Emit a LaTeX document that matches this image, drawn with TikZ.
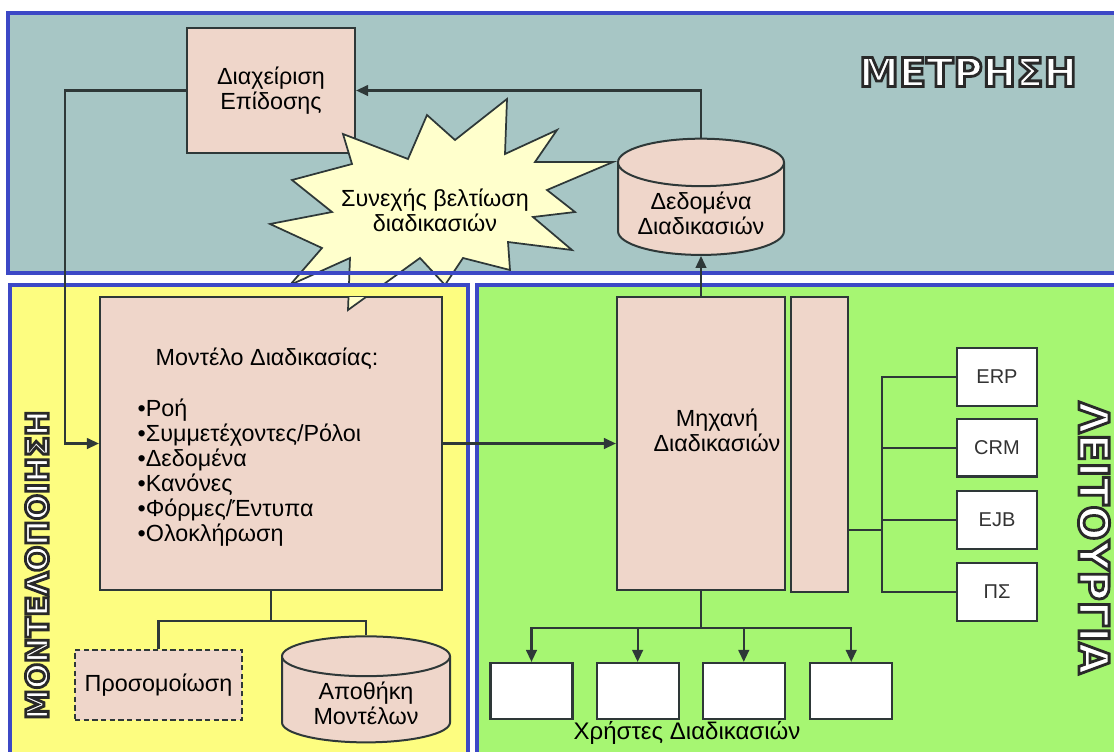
\documentclass[tikz,border=0pt]{standalone}
\usepackage{fontspec}
\setmainfont{Liberation Sans}
\newfontfamily\bannerfont{DejaVu Sans}
\usepackage{xcolor}
\usetikzlibrary{arrows.meta,positioning,shapes.geometric}
\definecolor{measureTeal}{HTML}{A7C6C5}
\definecolor{modelYellow}{HTML}{FDFD80}
\definecolor{runGreen}{HTML}{A6F672}
\definecolor{panelBlue}{HTML}{3C48C6}
\definecolor{boxPeach}{HTML}{EFD6CA}
\definecolor{burstCream}{HTML}{FFFFCC}
\definecolor{lineGrey}{HTML}{2E3838}
\newcommand{\diagsize}{\fontsize{17.5}{18.75}\selectfont}
% white letters with a dark rim (fill+stroke text mode)
\newcommand{\hollowtext}[1]{\special{pdf:literal direct 2 Tr 2.1 w 0.16 0.16 0.16 RG 1 1 1 rg}#1\special{pdf:literal direct 0 Tr 0.4 w 0 0 0 RG 0 0 0 rg}}

\begin{document}
\begin{tikzpicture}[x=0.75pt, y=-0.75pt,
    panel/.style={draw=panelBlue, line width=2.8pt},
    box/.style={draw=lineGrey, fill=boxPeach, line width=1.6pt, align=center, font=\diagsize},
    sysbox/.style={draw=lineGrey, fill=white, line width=1.6pt, minimum width=60pt, minimum height=43pt, font=\fontsize{15}{17}\selectfont, text=black!80},
    userbox/.style={draw=lineGrey, fill=white, line width=1.6pt, minimum width=61.5pt, minimum height=42pt},
    store/.style={cylinder, shape border rotate=90, aspect=0.35, draw=lineGrey, fill=boxPeach, line width=1.5pt, align=center, font=\diagsize},
    line/.style={draw=lineGrey, line width=1.6pt},
    arrow/.style={line, -{Triangle[length=9pt,width=8pt]}},
    banner/.style={font=\bannerfont\bfseries\fontsize{30}{30}\selectfont},
    burst/.style={draw=lineGrey, fill=burstCream, line width=1.3pt},
    burst path/.style={insert path={(343,134) -- (408,159) -- (427,115) -- (455,140) -- (507,99) -- (505,154) -- (557,130) -- (535,162) -- (613,162) -- (547,190) -- (575,212) -- (533,217) -- (572,250) -- (508,242) -- (510,270) -- (463,258) -- (445,285) -- (420,258) -- (348,310) -- (350,258) -- (290,285) -- (322,248) -- (270,224) -- (332,212) -- (292,180) -- (352,164) -- cycle}}
  ]
  \useasboundingbox (0,0) rectangle (1114,751);
  \clip (0,0) rectangle (1114,751);
  \fill[white] (0,0) rectangle (1114,751);

  % measurement
  \fill[measureTeal] (8,13) rectangle (1120,273);
  \node[box, minimum width=126pt, minimum height=93.75pt] (perf) at (271,90.5) {Διαχείριση\\Επίδοσης};
  \draw[burst, burst path];
  \node[font=\diagsize, align=center] (burstlabel) at (435,210) {Συνεχής βελτίωση\\διαδικασιών};
  \draw[panel] (8,13) rectangle (1120,273);
  \node[store, minimum width=124.5pt, minimum height=72.3pt] (data) at (701,213) {Δεδομένα\\Διαδικασιών};
  \node[banner] (measure) at (968,72) {\hollowtext{ΜΕΤΡΗΣΗ}};

  % modelling
  \draw[panel, fill=modelYellow] (10,285) rectangle (468,760);
  \node[box, minimum width=256.5pt, minimum height=219.75pt] (model) at (271,443.5) {};
  \begin{scope}
    \clip (330,297) rectangle (420,330);
    \draw[burst, burst path];
  \end{scope}
  \node[font=\diagsize] (modeltitle) at (267,359) {Μοντέλο Διαδικασίας:};
  \node[font=\diagsize, align=left, anchor=west] (modelitems) at (133,473) {•Ροή\\•Συμμετέχοντες/Ρόλοι\\•Δεδομένα\\•Κανόνες\\•Φόρμες/Έντυπα\\•Ολοκλήρωση};
  \node[box, dashed, dash pattern=on 4pt off 2.5pt, minimum width=125.25pt, minimum height=52.5pt] (sim) at (158.5,685) {Προσομοίωση};
  \node[store, minimum width=126pt, minimum height=76pt] (repo) at (366,703) {Αποθήκη\\Μοντέλων};
  \node[banner, rotate=90, font=\bannerfont\bfseries\fontsize{23}{23}\selectfont] (modelling) at (37,565) {\hollowtext{ΜΟΝΤΕΛΟΠΟΙΗΣΗ}};

  % operation
  \draw[panel, fill=runGreen] (477,285) rectangle (1120,760);
  \node[box, minimum width=126pt, minimum height=219.75pt] (engine) at (701,443.5) {};
  \node[font=\diagsize, align=center] (enginelabel) at (717,430) {Μηχανή\\Διαδικασιών};
  \node[box, minimum width=42.75pt, minimum height=221.25pt] (side) at (819.5,444.5) {};
  \node[sysbox] (erp) at (997,377) {ERP};
  \node[sysbox, below=8.5pt of erp] (crm) {CRM};
  \node[sysbox, below=9.5pt of crm] (ejb) {EJB};
  \node[sysbox, below=9.5pt of ejb] (ps) {ΠΣ};
  \node[userbox] (u1) at (531.5,691) {};
  \node[userbox, right=16.5pt of u1] (u2) {};
  \node[userbox, right=16.5pt of u2] (u3) {};
  \node[userbox, right=17.5pt of u3] (u4) {};
  \node[font=\fontsize{18}{20}\selectfont] (users) at (687,733) {Χρήστες Διαδικασιών};
  \node[banner, rotate=-90, font=\bannerfont\bfseries\fontsize{31}{31}\selectfont] (operation) at (1094,538) {\hollowtext{ΛΕΙΤΟΥΡΓΙΑ}};

  % connectors
  \coordinate (loop) at (65,90.5);
  \draw[arrow] (perf.west) -- (loop) |- (model.west);
  \draw[arrow] (data.north) |- (perf.east);
  \draw[arrow] (engine.north) -- (data.south);
  \draw[arrow] (model.east) -- (engine.west);
  \draw[line] (model.south) -- ++(0,30) -| (sim.north);
  \draw[line] (model.south) -- ++(0,30) -| (repo.north);
  \foreach \u in {u1,u2,u3,u4}
    \draw[arrow] (engine.south) -- ++(0,37) -| (\u.north);
  \coordinate (bus) at (882,530);
  \draw[line] (side.east |- bus) -- (bus);
  \foreach \s in {erp,crm,ejb,ps}
    \draw[line] (bus) |- (\s.west);
\end{tikzpicture}
\end{document}
